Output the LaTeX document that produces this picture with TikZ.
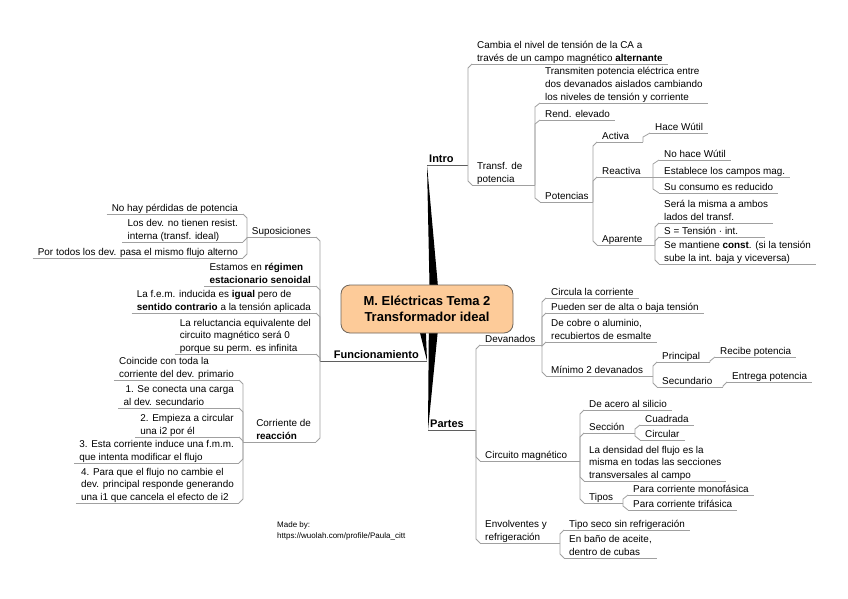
\documentclass[tikz,border=0pt]{standalone}
\usepackage{fontspec}
\setmainfont{Liberation Sans}
\usetikzlibrary{calc}
\definecolor{rootfill}{RGB}{253,203,153}
\definecolor{rootdraw}{RGB}{110,100,90}
\definecolor{lnk}{RGB}{160,160,160}
\definecolor{mainlnk}{RGB}{95,95,95}
\tikzset{
 txt/.style={font=\fontsize{9.9}{12.6}\selectfont, inner xsep=5pt, inner ysep=0.8pt, text depth=1.8pt, align=left},
 mainlbl/.style={font=\fontsize{11}{13}\selectfont\bfseries, inner xsep=2pt, inner ysep=1pt, text depth=1.5pt},
 uline/.style={draw=lnk, line width=0.8pt},
 mline/.style={draw=mainlnk, line width=1pt},
}
\newcommand\mmlink[2]{\draw[uline] let \p1=(#1), \p2=(#2) in (\p1) -- ({\x1},{\y2+4pt*sign(\y1-\y2)}) -- (\p2);}
\newcommand\Rleaf[4]{\node[txt,anchor=south west] (#1) at (#2,#3) {#4}; \coordinate (#1w) at (#2,#3); \draw[uline] (#1w) -- (#1.south east);}
\newcommand\Rpar[5]{\node[txt,anchor=south west] (#1) at (#2,#4) {#5}; \coordinate (#1w) at (#2,#4); \coordinate (#1e) at (#3,#4); \draw[uline] (#1w) -- (#1e);}
\newcommand\Lleaf[4]{\node[txt,anchor=south east] (#1) at (#2,#3) {#4}; \coordinate (#1e) at (#2,#3); \draw[uline] (#1.south west) -- (#1e);}
\newcommand\Lpar[5]{\node[txt,anchor=south east] (#1) at (#3,#4) {#5}; \coordinate (#1w) at (#2,#4); \coordinate (#1e) at (#3,#4); \draw[uline] (#1w) -- (#1e);}
\begin{document}
\begin{tikzpicture}[x=1pt,y=-1pt]
\fill[white] (0,0) rectangle (848,599);
\useasboundingbox (0,0) rectangle (848,599);

% main branch labels
\node[mainlbl, anchor=south west] (intro) at (427,165) {Intro};
\coordinate (introw) at (427,165); \coordinate (introe) at (468,165);
\draw[mline] (introw) -- (introe);
\node[mainlbl, anchor=south east] (func) at (421,361) {Funcionamiento};
\coordinate (funcw) at (320,361); \coordinate (funce) at (427,361);
\draw[mline] (funcw) -- (funce);
\node[mainlbl, anchor=south west] (partes) at (428,430) {Partes};
\coordinate (partesw) at (428,430); \coordinate (partese) at (476,430);
\draw[mline] (partesw) -- (partese);

% wedges from the root
\coordinate (rootc) at (427,309);
\fill[black] ($(rootc)+(3,0)$) -- (introw) -- ($(rootc)+(13,0)$) -- cycle;
\fill[black] ($(rootc)+(-13,0)$) -- (funce) -- ($(rootc)+(-2,0)$) -- cycle;
\fill[black] ($(rootc)+(2,0)$) -- (partesw) -- ($(rootc)+(13,0)$) -- cycle;

\node[draw=rootdraw, fill=rootfill, rounded corners=9pt, minimum width=172pt, minimum height=48pt, line width=0.8pt, align=center, font=\fontsize{13}{16}\selectfont\bfseries] (root) at (rootc) {M. Eléctricas Tema 2\\Transformador ideal};

% ---------------- Intro
\Rleaf{cambia}{472}{64}{Cambia el nivel de tensión de la CA a\\través de un campo magnético \textbf{alternante}}
\Rpar{transf}{472}{535}{185}{Transf. de\\potencia}
\mmlink{introe}{cambiaw}
\mmlink{introe}{transfw}
\Rleaf{transm}{540}{103}{Transmiten potencia eléctrica entre\\dos devanados aislados cambiando\\los niveles de tensión y corriente}
\Rleaf{rend}{540}{120}{Rend. elevado}
\Rpar{poten}{540}{593}{202}{Potencias}
\mmlink{transfe}{transmw}
\mmlink{transfe}{rendw}
\mmlink{transfe}{potenw}
\Rpar{activa}{597}{643}{142}{Activa}
\Rpar{reactiva}{597}{653}{177}{Reactiva}
\Rpar{aparente}{597}{655}{245}{Aparente}
\mmlink{potene}{activaw}
\mmlink{potene}{reactivaw}
\mmlink{potene}{aparentew}
\Rleaf{hace}{650}{133}{Hace Wútil}
\mmlink{activae}{hacew}
\Rleaf{nohace}{659}{160}{No hace Wútil}
\Rleaf{establece}{659}{177}{Establece los campos mag.}
\Rleaf{consumo}{659}{193}{Su consumo es reducido}
\mmlink{reactivae}{nohacew}
\mmlink{reactivae}{establecew}
\mmlink{reactivae}{consumow}
\Rleaf{sera}{659}{223}{Será la misma a ambos\\lados del transf.}
\Rpar{stens}{659}{765}{237}{S = Tensión · int.}
\Rleaf{mantiene}{659}{264}{Se mantiene \textbf{const}. (si la tensión\\sube la int. baja y viceversa)}
\mmlink{aparentee}{seraw}
\mmlink{aparentee}{stensw}
\mmlink{aparentee}{mantienew}

% ---------------- Partes
\Rpar{devan}{480}{542}{345}{Devanados}
\Rpar{circmag}{480}{580}{461}{Circuito magnético}
\Rpar{envol}{480}{560}{543}{Envolventes y\\refrigeración}
\mmlink{partese}{devanw}
\mmlink{partese}{circmagw}
\mmlink{partese}{envolw}
\Rleaf{circula}{546}{298}{Circula la corriente}
\Rleaf{pueden}{546}{313}{Pueden ser de alta o baja tensión}
\Rleaf{cobre}{546}{342}{De cobre o aluminio,\\recubiertos de esmalte}
\Rpar{minimo}{546}{653}{376}{Mínimo 2 devanados}
\mmlink{devane}{circulaw}
\mmlink{devane}{puedenw}
\mmlink{devane}{cobrew}
\mmlink{devane}{minimow}
\Rpar{princ}{657}{710}{362}{Principal}
\Rpar{secund}{657}{723}{387}{Secundario}
\mmlink{minimoe}{princw}
\mmlink{minimoe}{secundw}
\Rleaf{recibe}{715}{357}{Recibe potencia}
\Rleaf{entrega}{727}{382}{Entrega potencia}
\mmlink{prince}{recibew}
\mmlink{secunde}{entregaw}
\Rleaf{acero}{584}{410}{De acero al silicio}
\Rpar{seccion}{584}{635}{433}{Sección}
\Rleaf{densidad}{584}{481}{La densidad del flujo es la\\misma en todas las secciones\\transversales al campo}
\Rpar{tipos}{584}{623}{503}{Tipos}
\mmlink{circmage}{acerow}
\mmlink{circmage}{seccionw}
\mmlink{circmage}{densidadw}
\mmlink{circmage}{tiposw}
\Rleaf{cuadrada}{640}{425}{Cuadrada}
\Rleaf{circular}{640}{440}{Circular}
\mmlink{seccione}{cuadradaw}
\mmlink{seccione}{circularw}
\Rleaf{mono}{628}{495}{Para corriente monofásica}
\Rleaf{tri}{628}{510}{Para corriente trifásica}
\mmlink{tipose}{monow}
\mmlink{tipose}{triw}
\Rleaf{seco}{564}{530}{Tipo seco sin refrigeración}
\Rleaf{aceite}{564}{558}{En baño de aceite,\\dentro de cubas}
\mmlink{envole}{secow}
\mmlink{envole}{aceitew}

% ---------------- Funcionamiento
\Lpar{supos}{247}{316}{237}{Suposiciones}
\Lleaf{estamos}{316}{286}{Estamos en \textbf{régimen}\\\textbf{estacionario senoidal}}
\Lleaf{fem}{316}{313}{La f.e.m. inducida es \textbf{igual} pero de\\\textbf{sentido contrario} a la tensión aplicada}
\Lleaf{reluc}{316}{354}{La reluctancia equivalente del\\circuito magnético será 0\\porque su perm. es infinita}
\Lpar{corr}{243}{316}{442}{Corriente de\\\textbf{reacción}}
\mmlink{funcw}{supose}
\mmlink{funcw}{estamose}
\mmlink{funcw}{feme}
\mmlink{funcw}{reluce}
\mmlink{funcw}{corre}
\Lleaf{noper}{243}{214}{No hay pérdidas de potencia}
\Lleaf{losdev}{243}{242}{Los dev. no tienen resist.\\interna (transf. ideal)}
\Lleaf{portodos}{243}{258}{Por todos los dev. pasa el mismo flujo alterno}
\mmlink{suposw}{nopere}
\mmlink{suposw}{losdeve}
\mmlink{suposw}{portodose}
\Lleaf{coinc}{239}{380}{Coincide con toda la\\corriente del dev. primario}
\Lleaf{paso1}{239}{408}{\hspace{2pt}1. Se conecta una carga\\al dev. secundario}
\Lleaf{paso2}{239}{437}{2. Empieza a circular\\una i2 por él}
\Lleaf{paso3}{239}{463}{3. Esta corriente induce una f.m.m.\\que intenta modificar el flujo}
\Lleaf{paso4}{239}{503}{4. Para que el flujo no cambie el\\dev. principal responde generando\\una i1 que cancela el efecto de i2}
\mmlink{corrw}{coince}
\mmlink{corrw}{paso1e}
\mmlink{corrw}{paso2e}
\mmlink{corrw}{paso3e}
\mmlink{corrw}{paso4e}

% credit
\node[anchor=north west, align=left, inner sep=0pt, font=\fontsize{8}{11}\selectfont] (madeby) at (277,521) {Made by:\\https://wuolah.com/profile/Paula\_citt};
\end{tikzpicture}
\end{document}
